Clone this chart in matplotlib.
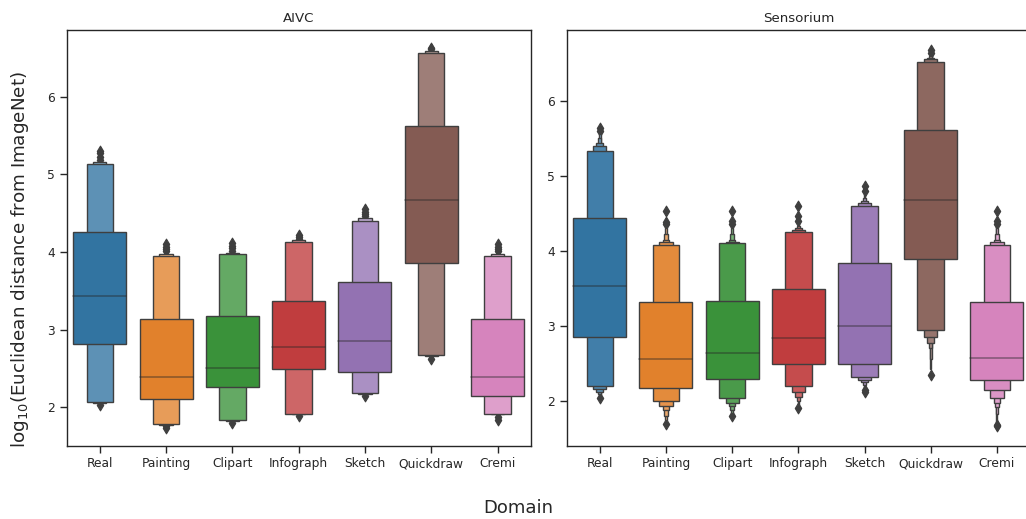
import numpy as np
import matplotlib.pyplot as plt
import seaborn as sns

domains = ["Real", "Painting", "Clipart", "Infograph", "Sketch", "Quickdraw", "Cremi"]

# letter values per domain, innermost box first
aivc_median = [3.43, 2.39, 2.51, 2.78, 2.86, 4.67, 2.39]
aivc_lower = [
    [2.81, 2.07, 2.06],
    [2.11, 1.78, 1.77],
    [2.26, 1.84, 1.83],
    [2.50, 1.92, 1.91],
    [2.46, 2.18, 2.17],
    [3.86, 2.67, 2.66],
    [2.15, 1.92, 1.91],
]
aivc_upper = [
    [4.26, 5.13, 5.16],
    [3.14, 3.95, 3.98],
    [3.18, 3.97, 3.99],
    [3.37, 4.13, 4.15],
    [3.62, 4.40, 4.44],
    [5.62, 6.57, 6.59],
    [3.14, 3.95, 3.98],
]
aivc_outliers = [
    [5.19, 5.23, 5.27, 5.30, 2.03],
    [4.01, 4.04, 4.07, 4.10, 1.74, 1.76],
    [4.02, 4.05, 4.08, 4.12, 1.80],
    [4.17, 4.20, 4.22, 1.89],
    [4.46, 4.49, 4.52, 4.55, 2.14],
    [6.61, 6.63, 2.62],
    [4.01, 4.04, 4.07, 4.10, 1.84, 1.87],
]

sens_median = [3.53, 2.56, 2.64, 2.84, 3.00, 4.68, 2.57]
sens_lower = [
    [2.85, 2.20, 2.15, 2.12, 2.09, 2.07],
    [2.17, 2.00, 1.93, 1.88, 1.80, 1.74],
    [2.29, 2.03, 1.97, 1.93, 1.88, 1.84],
    [2.49, 2.19, 2.11, 2.05, 1.99, 1.94],
    [2.49, 2.31, 2.28, 2.25, 2.21, 2.17],
    [3.89, 2.94, 2.85, 2.77, 2.70, 2.55, 2.42],
    [2.28, 2.14, 2.03, 1.97, 1.92, 1.82, 1.72],
]
sens_upper = [
    [4.44, 5.33, 5.40, 5.44, 5.50, 5.55],
    [3.32, 4.08, 4.12, 4.14, 4.22, 4.30],
    [3.33, 4.10, 4.12, 4.14, 4.22, 4.30],
    [3.49, 4.25, 4.28, 4.30, 4.33, 4.37],
    [3.83, 4.59, 4.64, 4.66, 4.70, 4.75],
    [5.61, 6.52, 6.55, 6.57, 6.59, 6.61, 6.62],
    [3.32, 4.08, 4.12, 4.14, 4.22, 4.30, 4.33],
]
sens_outliers = [
    [5.59, 5.63, 2.04],
    [4.35, 4.38, 4.53, 1.69],
    [4.35, 4.39, 4.53, 1.80],
    [4.40, 4.46, 4.60, 1.90],
    [4.80, 4.86, 2.11, 2.14],
    [6.64, 6.68, 2.34],
    [4.35, 4.39, 4.53, 1.66, 1.68],
]

sns.set_theme(context="paper", style="ticks")

palette = [sns.desaturate(c, 0.75) for c in sns.color_palette("tab10", 7)]
gray = "#3f3f3f"


def boxen(ax, medians, lowers, uppers, outliers, depth):
    for i in range(len(domains)):
        base = np.array(palette[i])
        n = len(lowers[i])
        # outer boxes first so inner ones sit on top
        for j in reversed(range(n)):
            frac = 0.85 * j / (depth - 1)
            col = base + (1 - base) * frac
            ax.bar(i, uppers[i][j] - lowers[i][j], bottom=lowers[i][j],
                   width=0.8 * 0.5 ** j, color=col, edgecolor=gray,
                   linewidth=1.0, zorder=1)
        ax.plot([i - 0.4, i + 0.4], [medians[i], medians[i]], c=".15",
                alpha=.45, lw=1.2, zorder=2)
        ax.scatter(np.full(len(outliers[i]), i), outliers[i], marker="d",
                   c=gray, s=30, zorder=0.5)
    ax.set_xticks(range(len(domains)))
    ax.set_xticklabels(domains)
    ax.set_xlim(-0.5, len(domains) - 0.5)


fig = plt.figure(figsize=(10.26, 5.19), dpi=100)
ax1 = fig.add_axes([0.065, 0.1412, 0.4522, 0.801])
ax2 = fig.add_axes([0.5523, 0.1412, 0.4516, 0.801])

boxen(ax1, aivc_median, aivc_lower, aivc_upper, aivc_outliers, 5)
boxen(ax2, sens_median, sens_lower, sens_upper, sens_outliers, 12)

ax1.set_ylim(1.506, 6.86)
ax2.set_ylim(1.40, 6.94)
ax1.set_title("AIVC")
ax2.set_title("Sensorium")

fig.supxlabel("Domain", x=0.505, y=0.003, fontsize=13)
fig.supylabel("log$_{10}$(Euclidean distance from ImageNet)", x=0.009, fontsize=13.2)

fig.savefig("out.png", dpi=100)
